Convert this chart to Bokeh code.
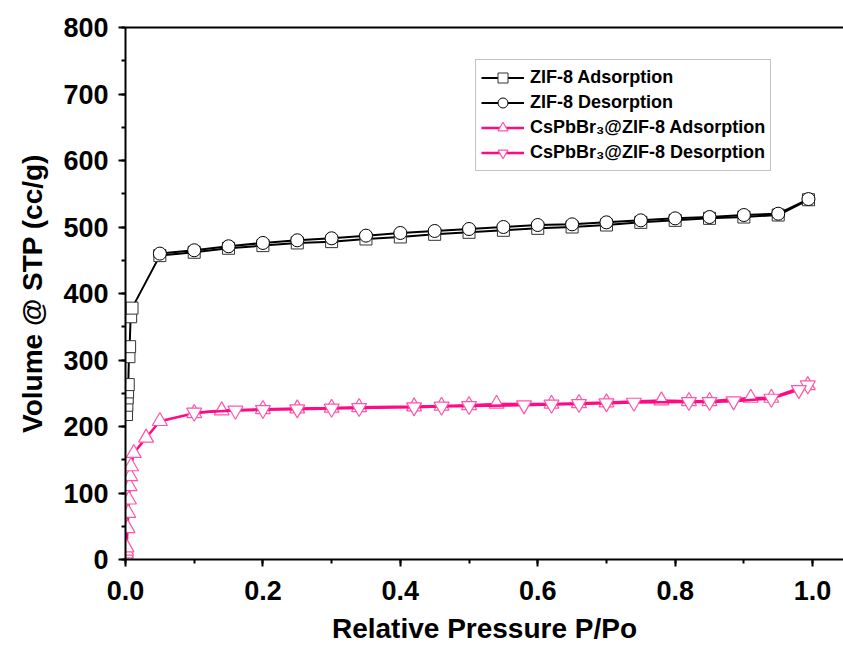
from bokeh.plotting import figure
from bokeh.models import (Range1d, LinearAxis, FixedTicker, Legend, LegendItem)
from bokeh.embed import file_html
from bokeh.resources import INLINE

# ---------------- data ----------------
zif_ads_x = [0.0015, 0.002, 0.0025, 0.003, 0.004, 0.005, 0.006, 0.0075, 0.0095,
             0.05, 0.10, 0.15, 0.20, 0.25, 0.30, 0.35, 0.40, 0.45, 0.50, 0.55,
             0.60, 0.65, 0.70, 0.75, 0.80, 0.85, 0.90, 0.95, 0.994]
zif_ads_y = [218, 232, 243, 252, 263, 305, 320, 365, 378,
             457, 462, 468, 472, 476, 478, 482, 485, 489, 492, 495,
             498, 500, 503, 507, 510, 513, 515, 518, 541]

zif_des_x = [0.994, 0.95, 0.90, 0.85, 0.80, 0.75, 0.70, 0.65, 0.60, 0.55,
             0.50, 0.45, 0.40, 0.35, 0.30, 0.25, 0.20, 0.15, 0.10, 0.05]
zif_des_y = [542, 520, 518, 515, 513, 510, 507, 504, 503, 500,
             497, 494, 491, 487, 483, 480, 476, 471, 465, 460]

cs_ads_x = [0.0004, 0.0007, 0.001, 0.0015, 0.003, 0.004, 0.005, 0.006, 0.007,
            0.008, 0.012, 0.03, 0.05, 0.10, 0.14, 0.20, 0.25, 0.30, 0.34, 0.42,
            0.46, 0.50, 0.54, 0.62, 0.66, 0.70, 0.78, 0.82, 0.85, 0.91, 0.94, 0.993]
cs_ads_y = [5, 9, 13, 18, 47, 70, 90, 110, 125,
            140, 160, 183, 208, 220, 224, 226, 227, 228, 229, 230,
            231, 232, 234, 234, 235, 236, 239, 238, 238, 243, 243, 262]

cs_des_x = [0.993, 0.98, 0.94, 0.885, 0.85, 0.82, 0.74, 0.70, 0.66, 0.62,
            0.58, 0.50, 0.46, 0.42, 0.34, 0.30, 0.25, 0.20, 0.16, 0.10]
cs_des_y = [262, 255, 242, 238, 237, 237, 236, 235, 234, 233,
            232, 231, 230, 229, 228, 227, 226, 225, 224, 221]

labels = ["ZIF-8 Adsorption", "ZIF-8 Desorption",
          "CsPbBr\u2083@ZIF-8 Adsorption", "CsPbBr\u2083@ZIF-8 Desorption"]

x_ticks = [0.0, 0.2, 0.4, 0.6, 0.8, 1.0]
x_tick_labels = ["0.0", "0.2", "0.4", "0.6", "0.8", "1.0"]
y_ticks = [0, 100, 200, 300, 400, 500, 600, 700, 800]

x_title = "Relative Pressure P/Po"
y_title = "Volume @ STP (cc/g)"

# ---------------- figure ----------------
FONT = "Liberation Sans"
BLACK = "#000000"
PINK = "#FF0A84"
PINK_EDGE = "#FF55AA"

p = figure(width=843, height=646, output_backend="svg", toolbar_location=None,
           x_range=Range1d(0, 1.045), y_range=Range1d(0, 800),
           min_border_left=125, min_border_right=0, min_border_top=27,
           min_border_bottom=86)
p.outline_line_color = None
p.grid.visible = False
p.background_fill_color = "white"
p.border_fill_color = "white"

for ax in (p.xaxis[0], p.yaxis[0]):
    ax.axis_line_width = 2
    ax.major_tick_line_width = 2
    ax.minor_tick_line_width = 2
    ax.major_tick_out = 7
    ax.major_tick_in = 0
    ax.minor_tick_out = 4
    ax.minor_tick_in = 0
    ax.major_label_text_font = FONT
    ax.major_label_text_font_style = "bold"
    ax.major_label_text_font_size = "27px"
    ax.major_label_text_color = BLACK
    ax.axis_label_text_font = FONT
    ax.axis_label_text_font_style = "bold"
    ax.axis_label_text_font_size = "28px"
    ax.axis_label_text_color = BLACK

p.xaxis[0].ticker = FixedTicker(ticks=x_ticks,
                                minor_ticks=[t / 10 for t in range(0, 11)])
p.xaxis[0].major_label_overrides = {t: s for t, s in zip(x_ticks, x_tick_labels)}
p.xaxis[0].major_label_standoff = 14
p.xaxis[0].axis_label = x_title
p.xaxis[0].axis_label_standoff = 10

p.yaxis[0].ticker = FixedTicker(ticks=y_ticks, minor_ticks=list(range(0, 801, 50)))
p.yaxis[0].major_label_standoff = 10
p.yaxis[0].axis_label = y_title
p.yaxis[0].axis_label_standoff = 12

top_axis = LinearAxis(axis_line_width=2, ticker=FixedTicker(ticks=[]),
                      major_tick_line_color=None, minor_tick_line_color=None)
p.add_layout(top_axis, "above")

# ---------------- series ----------------
l1 = p.line(zif_ads_x, zif_ads_y, line_color=BLACK, line_width=2)
m1 = p.scatter(zif_ads_x, zif_ads_y, marker="square", size=12,
               fill_color="white", line_color="#333333", line_width=1)
l2 = p.line(zif_des_x, zif_des_y, line_color=BLACK, line_width=2)
m2 = p.scatter(zif_des_x, zif_des_y, marker="circle", size=13,
               fill_color="white", line_color=BLACK, line_width=1)
l3 = p.line(cs_ads_x, cs_ads_y, line_color=PINK, line_width=2.5)
m3 = p.scatter(cs_ads_x, cs_ads_y, marker="triangle", size=15,
               fill_color="white", line_color=PINK_EDGE, line_width=1.2)
l4 = p.line(cs_des_x, cs_des_y, line_color=PINK, line_width=2.5)
m4 = p.scatter(cs_des_x, cs_des_y, marker="inverted_triangle", size=15,
               fill_color="white", line_color=PINK_EDGE, line_width=1.2)

legend = Legend(items=[
    LegendItem(label=labels[0], renderers=[l1, m1]),
    LegendItem(label=labels[1], renderers=[l2, m2]),
    LegendItem(label=labels[2], renderers=[l3, m3]),
    LegendItem(label=labels[3], renderers=[l4, m4]),
], location=(350, 388))
legend.label_text_font = FONT
legend.label_text_font_style = "bold"
legend.label_text_font_size = "18px"
legend.label_text_color = BLACK
legend.glyph_width = 43
legend.glyph_height = 25
legend.label_height = 20
legend.label_standoff = 6
legend.spacing = 0
legend.padding = 5
legend.margin = 0
legend.border_line_color = "#888888"
legend.border_line_width = 1.5
legend.background_fill_alpha = 1
p.add_layout(legend, "center")

open("out.html", "w").write(file_html(p, INLINE))
